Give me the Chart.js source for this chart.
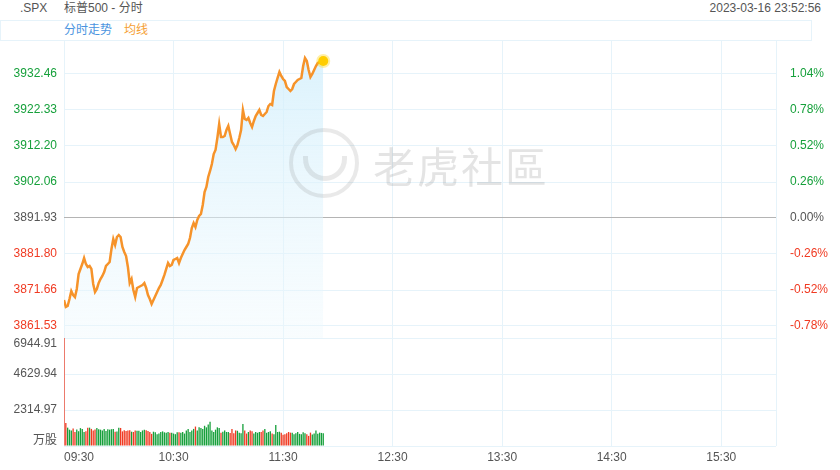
<!DOCTYPE html>
<html lang="zh">
<head>
<meta charset="UTF-8">
<title>.SPX 标普500 - 分时</title>
<script src="https://cdn.jsdelivr.net/npm/chart.js@4.4.0/dist/chart.umd.min.js"></script>
<style>
    body{ margin:0; width:840px; height:470px; position:relative; background:#fff; overflow:hidden;
          font-family:'Liberation Sans', Arial, 'Noto Sans CJK SC', sans-serif; }
    .txt{ position:absolute; font-size:12px; color:#555; line-height:14px; white-space:nowrap; }
    .legendBox{ position:absolute; left:0; top:20px; width:810px; height:19px; border:1px solid #e6f3fa; }
    canvas{ position:absolute; left:0; }
    .mark{ position:absolute; font-family:'Noto Sans CJK SC', sans-serif; font-size:42px; color:rgba(120,120,120,0.2); left:373px; top:134px; letter-spacing:2px; }
    .logo{ position:absolute; left:289px; top:128px; width:62px; height:62px; border:4px solid rgba(120,120,120,0.16); border-radius:50%; }
    .logo div{ position:absolute; left:10px; top:24px; width:34px; height:20px; border:5px solid rgba(120,120,120,0.16); border-top:none; border-radius:0 0 22px 22px; }
</style>
</head>
<body>
    <div class="txt" style="left:20px;top:1px;">.SPX</div>
    <div class="txt" style="left:64px;top:1px;">标普500 - 分时</div>
    <div class="txt" style="right:19px;top:1px;">2023-03-16 23:52:56</div>
    <div class="legendBox"></div>
    <div class="txt" style="left:64px;top:23px;color:#4a94e0;">分时走势</div>
    <div class="txt" style="left:124px;top:23px;color:#f5a033;">均线</div>

    <canvas id="priceChart" width="840" height="298" style="top:40px;"></canvas>
    <canvas id="volChart" width="840" height="132" style="top:338px;"></canvas>

    <div class="logo"><div></div></div>
    <div class="mark">老虎社區</div>

<script>
// values, one per minute from 09:30
const prevClose = 3891.93;
const priceTicks = [3861.53, 3871.66, 3881.80, 3891.93, 3902.06, 3912.20, 3922.33, 3932.46];
const pctLabels = ['-0.78%', '-0.52%', '-0.26%', '0.00%', '0.26%', '0.52%', '0.78%', '1.04%'];
const volTicks = [0, 2314.97, 4629.94, 6944.91];
const volLabels = ['万股', '2314.97', '4629.94', '6944.91'];
const timeTicks = [0, 60, 120, 180, 240, 300, 360, 390];
const timeLabels = ['09:30', '10:30', '11:30', '12:30', '13:30', '14:30', '15:30', ''];

const prices = [
    3868.85, 3866.88, 3867.16, 3869.13, 3871.38, 3870.26, 3869.69, 3871.95, 3876.17, 3877.58,
    3878.98, 3880.67, 3878.98, 3878.14, 3878.42, 3877.58, 3873.35, 3871.10, 3871.95, 3873.63,
    3874.76, 3875.60, 3876.73, 3878.42, 3878.98, 3879.55, 3883.20, 3886.02, 3884.33, 3886.58,
    3887.14, 3886.58, 3883.77, 3882.36, 3881.23, 3878.14, 3873.63, 3874.76, 3871.66, 3869.69,
    3872.23, 3872.51, 3872.79, 3873.07, 3873.63, 3872.23, 3870.26, 3869.13, 3867.72, 3868.85,
    3869.98, 3871.10, 3872.23, 3873.07, 3874.48, 3875.89, 3877.58, 3879.26, 3878.42, 3878.70,
    3880.11, 3880.39, 3880.67, 3879.26, 3880.67, 3881.80, 3882.92, 3883.77, 3884.61, 3886.30,
    3889.12, 3890.52, 3889.40, 3891.37, 3892.49, 3893.06, 3895.59, 3899.25, 3900.66, 3903.47,
    3905.16, 3907.13, 3909.94, 3911.07, 3914.45, 3918.39, 3914.73, 3914.73, 3915.01, 3916.70,
    3917.83, 3915.57, 3913.32, 3912.48, 3911.35, 3912.48, 3914.45, 3916.70, 3922.33, 3919.80,
    3919.51, 3920.08, 3918.67, 3917.54, 3919.23, 3920.64, 3921.48, 3922.33, 3920.92, 3920.64,
    3921.20, 3921.77, 3923.45, 3924.02, 3923.74, 3927.68, 3929.65, 3931.34, 3933.02, 3931.90,
    3931.05, 3930.49, 3928.80, 3928.24, 3927.68, 3928.24, 3929.65, 3930.21, 3930.77, 3931.05,
    3931.34, 3934.71, 3936.97, 3936.12, 3933.59, 3931.62, 3932.46, 3933.59, 3934.71, 3935.56,
    3935.84, 3936.12, 3936.12
];

const volumes = [
    6944.91, 1480, 1180, 1050, 1000, 1120, 900, 1060, 950, 1150,
    1100, 900, 950, 1180, 1180, 1100, 1000, 1060, 1150, 1080,
    1050, 1000, 1100, 960, 1080, 1050, 1080, 1100, 920, 940,
    1170, 1160, 940, 1020, 960, 1000, 1010, 920, 900, 1000,
    980, 980, 900, 1000, 1050, 1020, 960, 900, 780, 920,
    880, 760, 800, 900, 940, 880, 860, 900, 850, 860,
    800, 760, 880, 880, 860, 900, 800, 1000, 1100, 900,
    1000, 1100, 1250, 1000, 1200, 1150, 1100, 1300, 1200, 1380,
    1560, 1000, 900, 1050, 1200, 1150, 860, 920, 1000, 900,
    900, 830, 1100, 820, 1000, 980, 860, 820, 1410, 1000,
    800, 900, 1000, 950, 800, 900, 850, 900, 900, 1000,
    1100, 850, 900, 950, 800, 760, 1350, 900, 920, 860,
    720, 760, 820, 900, 860, 850, 760, 820, 900, 780,
    760, 880, 820, 760, 650, 860, 740, 800, 1000, 780,
    860, 840, 820
];

const GREEN = '#16a03b';
const RED = '#f03a22';
const GRAY = '#555';
const GRID = '#e6f3fa';
const FONT = "'Liberation Sans', Arial, 'Noto Sans CJK SC', sans-serif";

Chart.defaults.font.family = FONT;
Chart.defaults.font.size = 12;

// price range of the upper panel (top / bottom edge)
const priceMax = 3942.03;
const priceMin = 3858.15;

function noPad(s){ s.paddingTop = 0; s.paddingBottom = 0; s.paddingLeft = 0; s.paddingRight = 0; }
function tickColor(c){
    const v = c.tick.value;
    if (Math.abs(v - prevClose) < 0.001) return GRAY;
    return v > prevClose ? GREEN : RED;
}

const pts = prices.map((p, i) => ({x: i, y: p}));
const last = prices.length - 1;

new Chart(document.getElementById('priceChart'), {
    type: 'line',
    data: {
        datasets: [{
            data: pts,
            borderColor: '#f6932a',
            borderWidth: 2.5,
            tension: 0,
            fill: 'start',
            backgroundColor: function(c){
                const area = c.chart.chartArea;
                if (!area) return 'rgba(220,242,252,0.6)';
                const g = c.chart.ctx.createLinearGradient(0, area.top, 0, area.bottom);
                g.addColorStop(0, 'rgba(208,238,252,0.8)');
                g.addColorStop(1, 'rgba(236,248,253,0.35)');
                return g;
            },
            pointRadius: c => c.dataIndex === last ? 5 : 0,
            pointBackgroundColor: '#ffcc00',
            pointBorderColor: 'rgba(255,210,0,0.35)',
            pointBorderWidth: 4
        }]
    },
    options: {
        responsive: false,
        animation: false,
        devicePixelRatio: 1,
        layout: {padding: 0, autoPadding: false},
        plugins: {legend: {display: false}, tooltip: {enabled: false}},
        scales: {
            x: {
                type: 'linear', min: 0, max: 390,
                grid: {color: GRID, drawTicks: false},
                border: {display: false},
                ticks: {display: false},
                afterBuildTicks: s => { s.ticks = timeTicks.map(v => ({value: v})); },
                afterFit: s => { s.height = 0; noPad(s); }
            },
            y: {
                position: 'left', min: priceMin, max: priceMax,
                grid: {color: c => Math.abs(c.tick.value - prevClose) < 0.001 ? '#b4b4b4' : GRID, drawTicks: false},
                border: {display: false},
                ticks: {color: tickColor, padding: 7, callback: v => v.toFixed(2)},
                afterBuildTicks: s => { s.ticks = priceTicks.map(v => ({value: v})); },
                afterFit: s => { s.width = 64; noPad(s); }
            },
            y2: {
                position: 'right', min: priceMin, max: priceMax,
                grid: {display: false},
                border: {display: false},
                ticks: {color: tickColor, padding: 6, callback: (v, i) => pctLabels[i]},
                afterBuildTicks: s => { s.ticks = priceTicks.map(v => ({value: v})); },
                afterFit: s => { s.width = 64; noPad(s); }
            }
        }
    }
});

// volume axis labels are kept inside the panel, like the original
const volLabelPlugin = {
    id: 'volLabels',
    afterDraw(chart){
        const s = chart.scales.y;
        const a = chart.chartArea;
        const ctx = chart.ctx;
        ctx.save();
        ctx.font = '12px ' + FONT;
        ctx.fillStyle = GRAY;
        ctx.textAlign = 'right';
        ctx.textBaseline = 'middle';
        volTicks.forEach((v, i) => {
            let y = s.getPixelForValue(v);
            y = Math.min(Math.max(y, a.top + 5.5), a.bottom - 5.5);
            ctx.fillText(volLabels[i], a.left - 7, y);
        });
        ctx.restore();
    }
};

const volColors = prices.map((p, i) => {
    const before = i === 0 ? prevClose : prices[i - 1];
    return p >= before ? GREEN : RED;
});

new Chart(document.getElementById('volChart'), {
    type: 'bar',
    data: {
        datasets: [{
            data: volumes.map((v, i) => ({x: i, y: v})),
            backgroundColor: volColors,
            borderWidth: 0,
            categoryPercentage: 0.8,
            barPercentage: 0.9
        }]
    },
    options: {
        responsive: false,
        animation: false,
        devicePixelRatio: 1,
        layout: {padding: {right: 64}, autoPadding: false},
        plugins: {legend: {display: false}, tooltip: {enabled: false}},
        scales: {
            x: {
                type: 'linear', min: 0, max: 390, offset: false,
                grid: {color: GRID, drawTicks: false, offset: false},
                border: {display: false},
                ticks: {color: GRAY, padding: 4, align: 'inner', maxRotation: 0, autoSkip: false,
                        callback: (v, i) => timeLabels[i]},
                afterBuildTicks: s => { s.ticks = timeTicks.map(v => ({value: v})); },
                afterFit: s => { s.height = 24; noPad(s); }
            },
            y: {
                position: 'left', min: 0, max: 6944.91,
                grid: {color: GRID, drawTicks: false},
                border: {display: false},
                ticks: {display: false},
                afterBuildTicks: s => { s.ticks = volTicks.map(v => ({value: v})); },
                afterFit: s => { s.width = 64; noPad(s); }
            }
        }
    },
    plugins: [volLabelPlugin]
});
</script>
</body>
</html>
